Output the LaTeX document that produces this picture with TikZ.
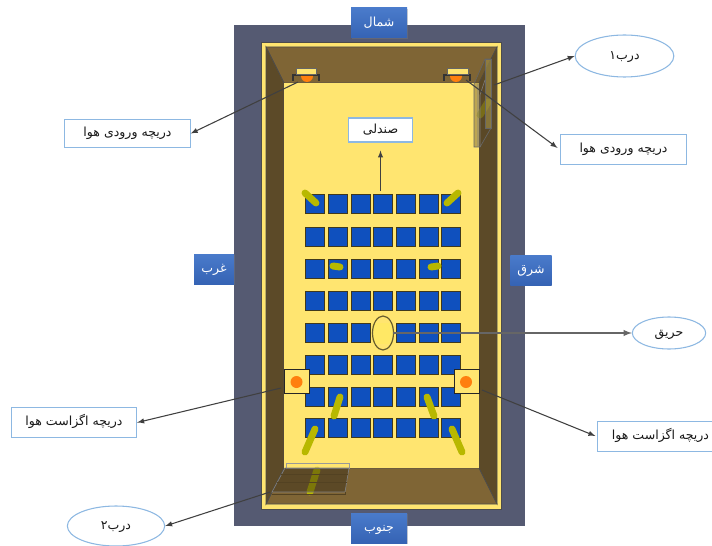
\documentclass[tikz,border=0pt]{standalone}
\usepackage{fontspec}
\newfontfamily\arabicfont[Script=Arabic]{DejaVu Sans}
\TeXXeTstate=1
\newcommand{\farsi}[1]{\raisebox{-2.6pt}[0pt][0pt]{\arabicfont\fontsize{9.4}{11}\selectfont\beginR #1\endR}}
\definecolor{skyline}{HTML}{8DB8E2}
\definecolor{slate}{HTML}{555A72}
\definecolor{floorcol}{HTML}{FFE570}
\definecolor{northcol}{HTML}{7F6535}
\definecolor{sidecol}{HTML}{5C4A28}
\definecolor{seatcol}{HTML}{0F50BE}
\definecolor{rodcol}{HTML}{B8B800}
\definecolor{ventcol}{HTML}{FF7F0E}
\definecolor{btntop}{HTML}{4A7BCB}
\definecolor{btnlow}{HTML}{3563B4}
\usetikzlibrary{shapes.geometric,shadows}
\tikzset{
  labelbox/.style={draw=skyline,line width=.8pt,fill=white,text=black!90,inner sep=0pt},
  labeloval/.style={ellipse,draw=skyline,line width=.8pt,fill=white,text=black!90,inner sep=0pt},
  compass/.style={top color=btntop,bottom color=btnlow,text=white,drop shadow={opacity=.35,shadow xshift=.6pt,shadow yshift=-.8pt},
    minimum width=42pt,minimum height=22.5pt,inner sep=0pt},
  wire/.style={draw=black!75,line width=.8pt,-latex},
  rod/.style={draw=rodcol,line width=5.2pt,line cap=round},
  seatbox/.style={fill=seatcol,draw=black!75!floorcol,line width=.7pt},
}
\begin{document}
\begin{tikzpicture}[x=.75pt,y=-.75pt]
    \useasboundingbox (0,0) rectangle (712,545);
    % ------ building ----------------------------
    \fill [slate] (234,25) rectangle (525,526);
    \draw [black!70,fill=floorcol,line width=.5pt] (261,42) rectangle (501,509);
    \draw [black!70,fill=northcol,line width=.5pt] (266,47)--(497,47)--(479,83)--(284,83)--cycle;
    \draw [black!70,fill=northcol,line width=.5pt] (266,504)--(497,504)--(479,468)--(284,468)--cycle;
    \draw [black!70,fill=sidecol,line width=.5pt] (266,47)--(284,83)--(284,468)--(266,504)--cycle;
    \draw [black!70,fill=sidecol,line width=.5pt] (497,47)--(479,83)--(479,468)--(497,504)--cycle;
    \fill [floorcol] (284,83) rectangle (479,468);
    % ------ seats -------------------------------
    \foreach \col in {305,328,351,373,396,419,441}
      \foreach \row in {194,227,259,291,323,355,387,418}
        \draw [seatbox] (\col,\row) rectangle ++(19,19.5);
    \fill [floorcol!90!yellow] (372.5,322.5) rectangle (392.5,343.5);
    % ------ occupants ---------------------------
    \draw [rod] (305,193)--(316,203);
    \draw [rod] (458,193)--(447,203);
    \draw [rod] (333,266)--(340,267);
    \draw [rod] (438,266)--(431,267);
    \draw [rod] (340,397)--(334,416);
    \draw [rod] (427,397)--(434,416);
    \draw [rod] (315,429)--(305,452);
    \draw [rod] (452,429)--(462,452);
    \draw [rod] (317,470)--(310,492);
    \draw [rod,opacity=.55] (488,102)--(480,115);
    % ------ inlet vents -------------------------
    \draw [black!80,line width=.9pt] (293,81)--(293,75)--(319,75)--(319,81);
    \draw [black!60,fill=floorcol,line width=.4pt] (296,68) rectangle (316,74);
    \fill [ventcol] (301,76)--(313,76) arc (0:180:6 and 6) --cycle;
    \draw [black!80,line width=.9pt] (444,81)--(444,75)--(470,75)--(470,81);
    \draw [black!60,fill=floorcol,line width=.4pt] (447,68) rectangle (468,74);
    \fill [ventcol] (450,76)--(462,76) arc (0:180:6 and 6) --cycle;
    % ------ exhaust vents -----------------------
    \draw [black!85,fill=floorcol,line width=.7pt] (284,369) rectangle (309,393);
    \fill [ventcol] (296.5,382) circle (6);
    \draw [black!85,fill=floorcol,line width=.7pt] (454,369) rectangle (479,393);
    \fill [ventcol] (466,382) circle (6);
    % ------ doors -------------------------------
    \draw [black!60,fill=black!30!northcol,fill opacity=.4,line width=.5pt]
      (485,59)--(491,59)--(491,128)--(480,147)--(474,147)--(474,84)--cycle;
    \draw [black!60,fill=black!30!floorcol,fill opacity=.5,line width=.5pt] (485,59) rectangle (491,128);
    \draw [black!50,line width=.4pt] (478,84)--(478,147) (480,147)--(480,95)--(485,80);
    \draw [black!40,fill=floorcol,fill opacity=.5,line width=.4pt] (286,463) rectangle (349,468);
    \draw [black!50,fill=black!60!northcol,fill opacity=.45,line width=.5pt]
      (285,468)--(349,468)--(345,492)--(272,492)--cycle;
    \draw [black!35!northcol,line width=.4pt] (277,482)--(347,482) (281,474)--(348,474) (272,494)--(345,494)--(345,492);
    % ------ fire --------------------------------
    \draw [black!60!floorcol,line width=.9pt] (383,333) ellipse (10.5 and 17);
    % ------ labels ------------------------------
    \node [compass] (north) at (379,23) {\farsi{شمال}};
    \node [compass] (south) at (379,528) {\farsi{جنوب}};
    \node [compass,minimum width=30pt] (west) at (214,269) {\farsi{غرب}};
    \node [compass,minimum width=31pt] (east) at (531,270) {\farsi{شرق}};
    \node [labelbox,minimum width=48pt,minimum height=18pt] (seat) at (380.5,130) {\farsi{صندلی}};
    \node [labelbox,minimum width=94pt,minimum height=21.5pt] (inletL) at (127.5,133.5) {\farsi{دریچه ورودی هوا}};
    \node [labelbox,minimum width=95pt,minimum height=23pt] (inletR) at (623.5,149.5) {\farsi{دریچه ورودی هوا}};
    \node [labelbox,minimum width=94pt,minimum height=23pt] (exhaustL) at (74,422.5) {\farsi{دریچه اگزاست هوا}};
    \node [labelbox,minimum width=95pt,minimum height=23pt] (exhaustR) at (660.5,436.5) {\farsi{دریچه اگزاست هوا}};
    \node [labeloval,minimum width=74pt,minimum height=31.5pt] (doorA) at (624.5,56) {\farsi{درب۱}};
    \node [labeloval,minimum width=73pt,minimum height=30pt] (doorB) at (116,526) {\farsi{درب۲}};
    \node [labeloval,minimum width=55pt,minimum height=24pt] (fire) at (669,333) {\farsi{حریق}};
    % ------ connectors --------------------------
    \coordinate (seatpt) at (380.5,191);
    \coordinate (inletptL) at (298,82);
    \coordinate (inletptR) at (466,80);
    \coordinate (doorptA) at (494,85);
    \coordinate (doorptB) at (270,492);
    \coordinate (firept) at (393,333);
    \coordinate (exhaustptL) at (281,388);
    \coordinate (exhaustptR) at (482,390);
    \draw [wire,shorten >=6pt] (seatpt)--(seat);
    \draw [wire] (inletptL)--(inletL.east);
    \draw [wire,shorten >=2pt] (inletptR)--(inletR.west);
    \draw [wire] (doorptA)--(doorA.west);
    \draw [wire] (doorptB)--(doorB.east);
    \draw [wire,draw=black!60,line width=1.1pt] (firept)--(fire.west);
    \draw [wire] (exhaustptL)--(exhaustL.east);
    \draw [wire,shorten >=1pt] (exhaustptR)--(exhaustR.west);
\end{tikzpicture}
\end{document}
